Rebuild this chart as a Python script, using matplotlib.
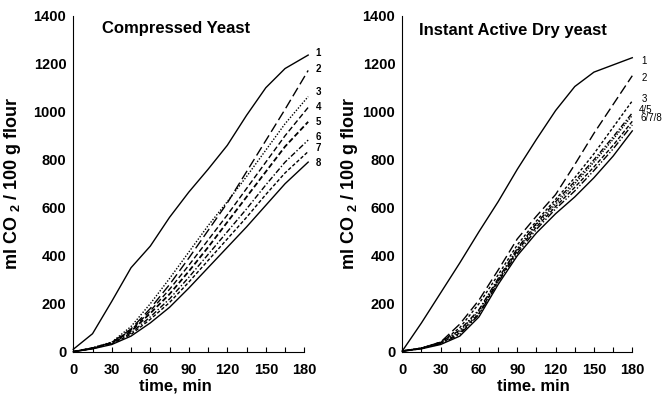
import matplotlib
matplotlib.use("Agg")
import matplotlib.pyplot as plt
from matplotlib.ticker import MultipleLocator

plt.rcParams['font.family'] = ['Liberation Sans', 'DejaVu Sans']
plt.rcParams['font.weight'] = 'bold'
plt.rcParams['mathtext.fontset'] = 'custom'
plt.rcParams['mathtext.rm'] = 'Liberation Sans:bold'
plt.rcParams['mathtext.it'] = 'Liberation Sans:bold'
plt.rcParams['mathtext.bf'] = 'Liberation Sans:bold'

# time points, min
t_left = [0, 15, 30, 45, 60, 75, 90, 105, 120, 135, 150, 165, 183]
t_right = [0, 15, 30, 45, 60, 75, 90, 105, 120, 135, 150, 165, 180]

# compressed yeast, ml CO2 / 100 g flour
cy1 = [10, 75, 210, 350, 440, 560, 665, 760, 860, 985, 1100, 1180, 1236]
cy2 = [0, 15, 38, 95, 180, 280, 390, 505, 620, 750, 880, 1010, 1172]
cy3 = [0, 16, 40, 105, 200, 305, 415, 525, 625, 730, 840, 950, 1063]
cy4 = [0, 15, 38, 90, 170, 260, 360, 465, 570, 680, 790, 900, 1018]
cy5 = [0, 15, 37, 85, 160, 240, 335, 435, 540, 645, 750, 855, 958]
cy6 = [0, 14, 35, 78, 145, 220, 310, 405, 500, 595, 695, 790, 882]
cy7 = [0, 13, 33, 72, 135, 205, 290, 380, 470, 560, 655, 745, 834]
cy8 = [0, 12, 30, 65, 120, 185, 265, 350, 435, 520, 610, 700, 790]

# instant active dry yeast
iy1 = [3, 120, 245, 370, 500, 625, 760, 885, 1005, 1105, 1165, 1195, 1225]
iy2 = [3, 15, 40, 115, 215, 340, 470, 565, 655, 780, 910, 1030, 1150]
iy3 = [3, 15, 38, 100, 200, 320, 445, 545, 635, 725, 825, 935, 1045]
iy4 = [3, 15, 40, 90, 175, 305, 430, 535, 625, 710, 800, 895, 995]
iy5 = [3, 15, 38, 85, 170, 300, 425, 530, 615, 700, 790, 885, 985]
iy6 = [3, 14, 35, 78, 160, 295, 420, 520, 605, 685, 770, 860, 960]
iy7 = [2, 13, 33, 72, 155, 290, 410, 510, 595, 670, 755, 845, 945]
iy8 = [2, 12, 30, 65, 145, 280, 400, 495, 575, 645, 725, 815, 920]

cy_labels = ['1', '2', '3', '4', '5', '6', '7', '8']
cy_label_y = [1243, 1177, 1084, 1021, 958, 896, 848, 785]
iy_labels = ['1', '2', '3', '4/5', '6/7/8']
iy_label_x = [187, 187, 187, 185, 186.5]
iy_label_y = [1212, 1142, 1052, 1008, 972]

left_styles = ['-', (0, (7, 3)), (0, (1, 1.2)), (0, (4, 2)), (0, (3, 1.5)),
               (0, (4, 1.5, 1, 1.5)), (0, (2.5, 1.5)), '-']
right_styles = ['-', (0, (7, 3)), (0, (2, 1.5)), (0, (4, 1.5, 1, 1.5)), (0, (1, 1)),
                (0, (3, 1.5)), (0, (5, 1.5, 1, 1.5, 1, 1.5)), '-']

fig = plt.figure(figsize=(6.62, 3.95), dpi=100)
ax1 = fig.add_axes([0.1107, 0.1096, 0.349, 0.8506])
ax2 = fig.add_axes([0.6077, 0.1096, 0.3474, 0.8506])


def style_axes(ax, xlabel, xlab_x, ylab_x):
    ax.set_xlim(0, 180)
    ax.set_ylim(0, 1400)
    for s in ['top', 'right']:
        ax.spines[s].set_visible(False)
    for s in ['left', 'bottom']:
        ax.spines[s].set_linewidth(0.8)
    ax.xaxis.set_major_locator(MultipleLocator(30))
    ax.xaxis.set_minor_locator(MultipleLocator(15))
    ax.yaxis.set_major_locator(MultipleLocator(200))
    ax.tick_params(axis='x', which='both', direction='in', length=3.5, width=0.8,
                   labelsize=10.5, pad=8)
    ax.tick_params(axis='y', which='both', length=0, labelsize=10.5, pad=5)
    ax.set_xlabel(xlabel, fontsize=12, fontweight='bold')
    ax.xaxis.set_label_coords(xlab_x, -0.08)
    ax.set_ylabel('ml CO $_2$ / 100 g flour', fontsize=13, fontweight='bold')
    ax.yaxis.set_label_coords(ylab_x, 0.5)


cy = [cy1, cy2, cy3, cy4, cy5, cy6, cy7, cy8]
for y, ls in zip(cy, left_styles):
    lw = 1.3 if ls == left_styles[4] else 1.0
    ax1.plot(t_left, y, color='black', linestyle=ls, linewidth=lw, clip_on=False)
for lab, ly in zip(cy_labels, cy_label_y):
    ax1.text(189, ly, lab, fontsize=7, fontweight='bold', ha='left', va='center')
ax1.text(0.444, 0.963, 'Compressed Yeast', transform=ax1.transAxes,
         fontsize=12, fontweight='bold', ha='center', va='center')
style_axes(ax1, 'time, min', 0.444, -0.218)

iy = [iy1, iy2, iy3, iy4, iy5, iy6, iy7, iy8]
for y, ls in zip(iy, right_styles):
    ax2.plot(t_right, y, color='black', linestyle=ls, linewidth=1.0, clip_on=False)
for lab, lx, ly in zip(iy_labels, iy_label_x, iy_label_y):
    ax2.text(lx, ly, lab, fontsize=7, fontweight='normal', ha='left', va='center')
ax2.text(0.483, 0.957, 'Instant Active Dry yeast', transform=ax2.transAxes,
         fontsize=12, fontweight='bold', ha='center', va='center')
style_axes(ax2, 'time. min', 0.568, -0.184)

fig.savefig('out.png', dpi=100)
